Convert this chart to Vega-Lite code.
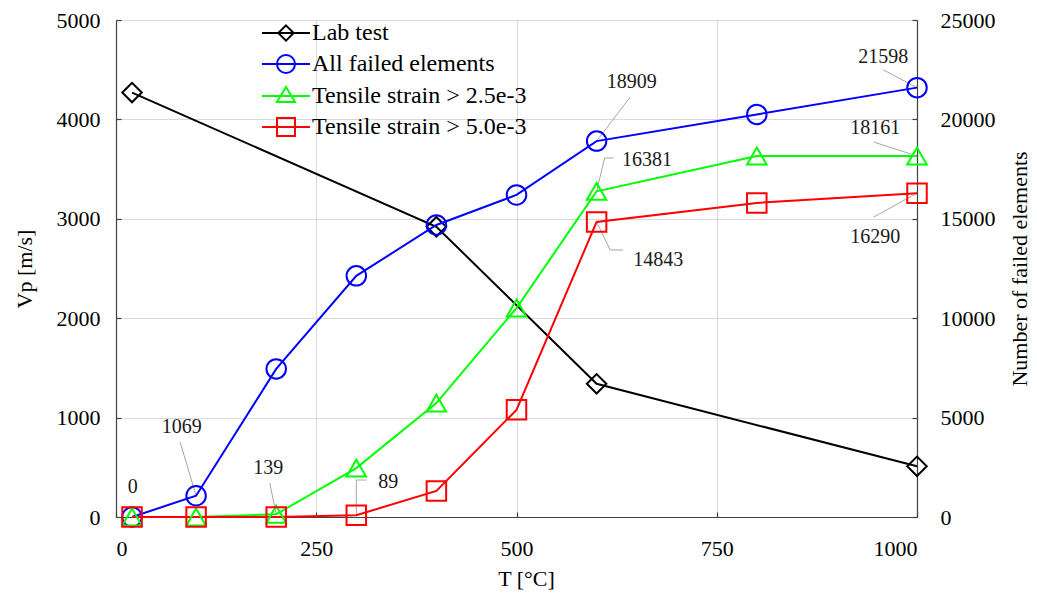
{
  "$schema": "https://vega.github.io/schema/vega-lite/v6.json",
  "width": 801,
  "height": 497,
  "autosize": {"type": "none"},
  "padding": {"left": 116, "top": 20, "right": 120, "bottom": 77},
  "background": "white",
  "config": {
    "font": "Liberation Serif, Times New Roman, serif",
    "view": {"stroke": null},
    "axis": {
      "labelFont": "Liberation Serif, Times New Roman, serif",
      "titleFont": "Liberation Serif, Times New Roman, serif",
      "labelFontSize": 22,
      "titleFontSize": 22,
      "labelColor": "#000000",
      "titleColor": "#000000",
      "titleFontWeight": "normal",
      "domainColor": "#404040",
      "domainWidth": 1.2,
      "tickColor": "#404040",
      "tickWidth": 1.2,
      "gridColor": "#d9d9d9",
      "gridWidth": 1
    },
    "legend": {
      "orient": "none", "legendX": 158, "legendY": 1,
      "labelFontSize": 24, "labelFont": "Liberation Serif, Times New Roman, serif", "labelColor": "#000000", "labelLimit": 500,
      "symbolSize": 324, "symbolStrokeWidth": 2, "labelOffset": 14, "rowPadding": 6, "padding": 0
    }
  },
  "datasets": {
    "lab": [
      {"T": 20, "Vp": 4270, "series": "Lab test"},
      {"T": 400, "Vp": 2920, "series": "Lab test"},
      {"T": 600, "Vp": 1340, "series": "Lab test"},
      {"T": 1000, "Vp": 510, "series": "Lab test"}
    ],
    "failed": [
      {"T": 20, "count": 0, "series": "All failed elements"},
      {"T": 100, "count": 1069, "series": "All failed elements"},
      {"T": 200, "count": 7450, "series": "All failed elements"},
      {"T": 300, "count": 12130, "series": "All failed elements"},
      {"T": 400, "count": 14690, "series": "All failed elements"},
      {"T": 500, "count": 16200, "series": "All failed elements"},
      {"T": 600, "count": 18909, "series": "All failed elements"},
      {"T": 800, "count": 20250, "series": "All failed elements"},
      {"T": 1000, "count": 21598, "series": "All failed elements"},
      {"T": 20, "count": 0, "series": "Tensile strain > 2.5e-3"},
      {"T": 100, "count": 0, "series": "Tensile strain > 2.5e-3"},
      {"T": 200, "count": 139, "series": "Tensile strain > 2.5e-3"},
      {"T": 300, "count": 2460, "series": "Tensile strain > 2.5e-3"},
      {"T": 400, "count": 5730, "series": "Tensile strain > 2.5e-3"},
      {"T": 500, "count": 10510, "series": "Tensile strain > 2.5e-3"},
      {"T": 600, "count": 16381, "series": "Tensile strain > 2.5e-3"},
      {"T": 800, "count": 18161, "series": "Tensile strain > 2.5e-3"},
      {"T": 1000, "count": 18161, "series": "Tensile strain > 2.5e-3"},
      {"T": 20, "count": 0, "series": "Tensile strain > 5.0e-3"},
      {"T": 100, "count": 0, "series": "Tensile strain > 5.0e-3"},
      {"T": 200, "count": 0, "series": "Tensile strain > 5.0e-3"},
      {"T": 300, "count": 89, "series": "Tensile strain > 5.0e-3"},
      {"T": 400, "count": 1310, "series": "Tensile strain > 5.0e-3"},
      {"T": 500, "count": 5390, "series": "Tensile strain > 5.0e-3"},
      {"T": 600, "count": 14843, "series": "Tensile strain > 5.0e-3"},
      {"T": 800, "count": 15800, "series": "Tensile strain > 5.0e-3"},
      {"T": 1000, "count": 16290, "series": "Tensile strain > 5.0e-3"}
    ],
    "labels": [
      {"text": "0", "T": 21, "count": 1510},
      {"text": "1069", "T": 82, "count": 4530},
      {"text": "139", "T": 190, "count": 2470},
      {"text": "89", "T": 340, "count": 1760},
      {"text": "18909", "T": 644, "count": 21880},
      {"text": "16381", "T": 663, "count": 17960},
      {"text": "14843", "T": 677, "count": 12930},
      {"text": "21598", "T": 958, "count": 23140},
      {"text": "18161", "T": 948, "count": 19570},
      {"text": "16290", "T": 948, "count": 14090}
    ],
    "leaders": [
      {"T": 100, "count": 1069, "T2": 80, "count2": 3770},
      {"T": 200, "count": 139, "T2": 192, "count2": 1710},
      {"T": 300, "count": 89, "T2": 300, "count2": 1860},
      {"T": 300, "count": 1860, "T2": 313, "count2": 1860},
      {"T": 600, "count": 18909, "T2": 642, "count2": 21130},
      {"T": 600, "count": 16381, "T2": 610, "count2": 18060},
      {"T": 610, "count": 18060, "T2": 621, "count2": 18060},
      {"T": 600, "count": 14843, "T2": 617, "count2": 13430},
      {"T": 617, "count": 13430, "T2": 633, "count2": 13430},
      {"T": 1000, "count": 21598, "T2": 958, "count2": 22490},
      {"T": 1000, "count": 18161, "T2": 946, "count2": 18860},
      {"T": 1000, "count": 16290, "T2": 946, "count2": 15090}
    ]
  },
  "layer": [
    {
      "data": {"name": "lab"},
      "encoding": {
        "x": {
          "field": "T", "type": "quantitative",
          "scale": {"domain": [0, 1000], "nice": false, "zero": false},
          "axis": {"title": "T [°C]", "values": [0, 250, 500, 750, 1000], "format": "d", "grid": true, "tickSize": -5, "labelPadding": 26, "titlePadding": 9, "titleX": 410}
        },
        "y": {
          "field": "Vp", "type": "quantitative",
          "scale": {"domain": [0, 5000], "nice": false},
          "axis": {"title": "Vp [m/s]", "orient": "left", "values": [0, 1000, 2000, 3000, 4000, 5000], "format": "d", "grid": true, "tickSize": -5, "labelPadding": 21, "titlePadding": 20}
        }
      },
      "layer": [
        {
          "mark": {"type": "line", "strokeWidth": 2},
          "encoding": {
            "color": {
              "field": "series", "type": "nominal",
              "scale": {
                "domain": ["Lab test", "All failed elements", "Tensile strain > 2.5e-3", "Tensile strain > 5.0e-3"],
                "range": ["#000000", "#0000ff", "#00ff00", "#ff0000"]
              },
              "legend": {"title": null, "encode": {"symbols": {"update": {"fill": {"value": "transparent"}, "strokeWidth": {"value": 2}, "shape": {"signal": "datum.value === 'Lab test' ? 'M-2.67,0H2.67M0,-0.85L0.85,0L0,0.85L-0.85,0Z' : datum.value === 'All failed elements' ? 'M-2.67,0H2.67M-1,0A1,1,0,1,1,1,0A1,1,0,1,1,-1,0Z' : datum.value === 'Tensile strain > 2.5e-3' ? 'M-2.67,0H2.67M0,-1L1,0.67L-1,0.67Z' : 'M-2.67,0H2.67M-1,-1H1V1H-1Z'"}}}}}
            }
          }
        },
        {
          "mark": {"type": "point", "filled": false, "size": 380, "strokeWidth": 2, "opacity": 1},
          "encoding": {
            "color": {
              "field": "series", "type": "nominal",
              "scale": {
                "domain": ["Lab test", "All failed elements", "Tensile strain > 2.5e-3", "Tensile strain > 5.0e-3"],
                "range": ["#000000", "#0000ff", "#00ff00", "#ff0000"]
              },
              "legend": {"title": null, "encode": {"symbols": {"update": {"fill": {"value": "transparent"}, "strokeWidth": {"value": 2}, "shape": {"signal": "datum.value === 'Lab test' ? 'M-2.67,0H2.67M0,-0.85L0.85,0L0,0.85L-0.85,0Z' : datum.value === 'All failed elements' ? 'M-2.67,0H2.67M-1,0A1,1,0,1,1,1,0A1,1,0,1,1,-1,0Z' : datum.value === 'Tensile strain > 2.5e-3' ? 'M-2.67,0H2.67M0,-1L1,0.67L-1,0.67Z' : 'M-2.67,0H2.67M-1,-1H1V1H-1Z'"}}}}}
            },
            "shape": {
              "field": "series", "type": "nominal",
              "scale": {"range": ["circle", "diamond", "triangle-up", "square"]},
              "legend": null
            }
          }
        }
      ]
    },
    {
      "encoding": {
        "x": {
          "field": "T", "type": "quantitative",
          "scale": {"domain": [0, 1000], "nice": false, "zero": false},
          "axis": {"title": "T [°C]", "values": [0, 250, 500, 750, 1000], "format": "d", "grid": true, "tickSize": -5, "labelPadding": 26, "titlePadding": 9, "titleX": 410}
        },
        "y": {
          "field": "count", "type": "quantitative",
          "scale": {"domain": [0, 25000], "nice": false},
          "axis": {"title": "Number of failed elements", "orient": "right", "values": [0, 5000, 10000, 15000, 20000, 25000], "format": "d", "grid": false, "tickSize": -5, "labelPadding": 28, "titlePadding": 14, "titleAngle": 270, "titleBaseline": "top"}
        }
      },
      "layer": [
        {
          "data": {"name": "leaders"},
          "mark": {"type": "rule", "color": "#a6a6a6", "strokeWidth": 1},
          "encoding": {
            "x2": {"field": "T2"},
            "y2": {"field": "count2"}
          }
        },
        {
          "data": {"name": "failed"},
          "mark": {"type": "line", "strokeWidth": 2},
          "encoding": {
            "color": {
              "field": "series", "type": "nominal",
              "scale": {
                "domain": ["Lab test", "All failed elements", "Tensile strain > 2.5e-3", "Tensile strain > 5.0e-3"],
                "range": ["#000000", "#0000ff", "#00ff00", "#ff0000"]
              },
              "legend": {"title": null, "encode": {"symbols": {"update": {"fill": {"value": "transparent"}, "strokeWidth": {"value": 2}, "shape": {"signal": "datum.value === 'Lab test' ? 'M-2.67,0H2.67M0,-0.85L0.85,0L0,0.85L-0.85,0Z' : datum.value === 'All failed elements' ? 'M-2.67,0H2.67M-1,0A1,1,0,1,1,1,0A1,1,0,1,1,-1,0Z' : datum.value === 'Tensile strain > 2.5e-3' ? 'M-2.67,0H2.67M0,-1L1,0.67L-1,0.67Z' : 'M-2.67,0H2.67M-1,-1H1V1H-1Z'"}}}}}
            }
          }
        },
        {
          "data": {"name": "failed"},
          "mark": {"type": "point", "filled": false, "size": 380, "strokeWidth": 2, "opacity": 1},
          "encoding": {
            "color": {
              "field": "series", "type": "nominal",
              "scale": {
                "domain": ["Lab test", "All failed elements", "Tensile strain > 2.5e-3", "Tensile strain > 5.0e-3"],
                "range": ["#000000", "#0000ff", "#00ff00", "#ff0000"]
              },
              "legend": {"title": null, "encode": {"symbols": {"update": {"fill": {"value": "transparent"}, "strokeWidth": {"value": 2}, "shape": {"signal": "datum.value === 'Lab test' ? 'M-2.67,0H2.67M0,-0.85L0.85,0L0,0.85L-0.85,0Z' : datum.value === 'All failed elements' ? 'M-2.67,0H2.67M-1,0A1,1,0,1,1,1,0A1,1,0,1,1,-1,0Z' : datum.value === 'Tensile strain > 2.5e-3' ? 'M-2.67,0H2.67M0,-1L1,0.67L-1,0.67Z' : 'M-2.67,0H2.67M-1,-1H1V1H-1Z'"}}}}}
            },
            "shape": {
              "field": "series", "type": "nominal",
              "scale": {"range": ["circle", "diamond", "triangle-up", "square"]},
              "legend": null
            }
          }
        },
        {
          "data": {"name": "labels"},
          "mark": {"type": "text", "font": "Liberation Serif, Times New Roman, serif", "fontSize": 20, "color": "#1a1a1a", "align": "center", "baseline": "middle"},
          "encoding": {
            "text": {"field": "text", "type": "nominal"}
          }
        }
      ]
    }
  ],
  "resolve": {"scale": {"y": "independent"}}
}
